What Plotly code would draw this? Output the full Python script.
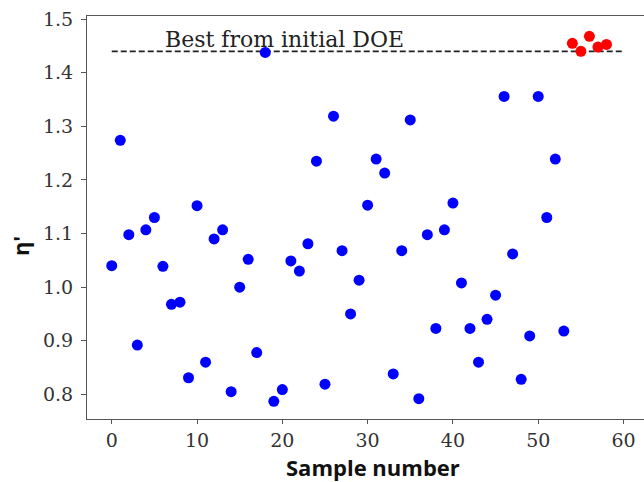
import plotly.graph_objects as go

# Initial DOE samples (blue)
doe_x = list(range(0, 54))
doe_y = [1.040, 1.274, 1.098, 0.892, 1.107, 1.130, 1.039, 0.968, 0.972, 0.831,
         1.152, 0.860, 1.090, 1.107, 0.805, 1.000, 1.052, 0.878, 1.438, 0.787,
         0.809, 1.049, 1.030, 1.081, 1.235, 0.819, 1.319, 1.068, 0.950, 1.013,
         1.153, 1.239, 1.213, 0.838, 1.068, 1.312, 0.792, 1.098, 0.923, 1.107,
         1.157, 1.008, 0.923, 0.860, 0.940, 0.985, 1.356, 1.062, 0.828, 0.909,
         1.356, 1.130, 1.239, 0.918]

# New optimised samples (red)
opt_x = [54, 55, 56, 57, 58]
opt_y = [1.455, 1.440, 1.468, 1.448, 1.453]

best_value = 1.44
best_line_x = [0, 60]
best_label = "Best from initial DOE"

x_ticks = [0, 10, 20, 30, 40, 50, 60]
y_ticks = [0.8, 0.9, 1.0, 1.1, 1.2, 1.3, 1.4, 1.5]

serif = "DejaVu Serif"
sans = "Open Sans"

fig = go.Figure()
fig.add_trace(go.Scatter(x=best_line_x, y=[best_value, best_value], mode="lines",
                         line=dict(color="#222222", width=1.6, dash="6px,3px"),
                         showlegend=False, hoverinfo="skip"))
fig.add_trace(go.Scatter(x=doe_x, y=doe_y, mode="markers",
                         marker=dict(color="#0000ff", size=11), showlegend=False))
fig.add_trace(go.Scatter(x=opt_x, y=opt_y, mode="markers",
                         marker=dict(color="#ff0000", size=11), showlegend=False))

fig.add_annotation(x=6.0, y=1.463, text=best_label, showarrow=False,
                   xanchor="left", yanchor="middle",
                   font=dict(family=serif, size=22, color="#222222"))

# axis titles as annotations for exact placement
fig.add_annotation(x=0.5126, y=0, xref="paper", yref="paper", yshift=-47.5,
                   text="<b>Sample number</b>", showarrow=False,
                   xanchor="center", yanchor="middle",
                   font=dict(family=sans, size=22, color="#111111"))
fig.add_annotation(x=-0.1203, y=0.429, xref="paper", yref="paper",
                   text="<b>η'</b>", showarrow=False, textangle=-90,
                   xanchor="center", yanchor="middle",
                   font=dict(family=sans, size=22, color="#111111"))

fig.update_layout(
    width=644, height=482,
    margin=dict(l=87, r=0, t=16, b=63),
    plot_bgcolor="white", paper_bgcolor="white",
)
fig.update_xaxes(range=[-2.9, 62.4], tickvals=x_ticks,
                 showline=True, linecolor="#555555", linewidth=1.2, mirror=True,
                 ticks="outside", ticklen=4, tickcolor="#555555",
                 showgrid=False, zeroline=False,
                 tickfont=dict(family=serif, size=19, color="#333333"))
fig.update_yaxes(range=[0.754, 1.506], tickvals=y_ticks, tickformat=".1f",
                 showline=True, linecolor="#555555", linewidth=1.2, mirror=False,
                 ticks="outside", ticklen=5, tickcolor="#555555",
                 ticklabelstandoff=4,
                 showgrid=False, zeroline=False,
                 tickfont=dict(family=serif, size=19, color="#333333"))

fig.write_html("out.html")
